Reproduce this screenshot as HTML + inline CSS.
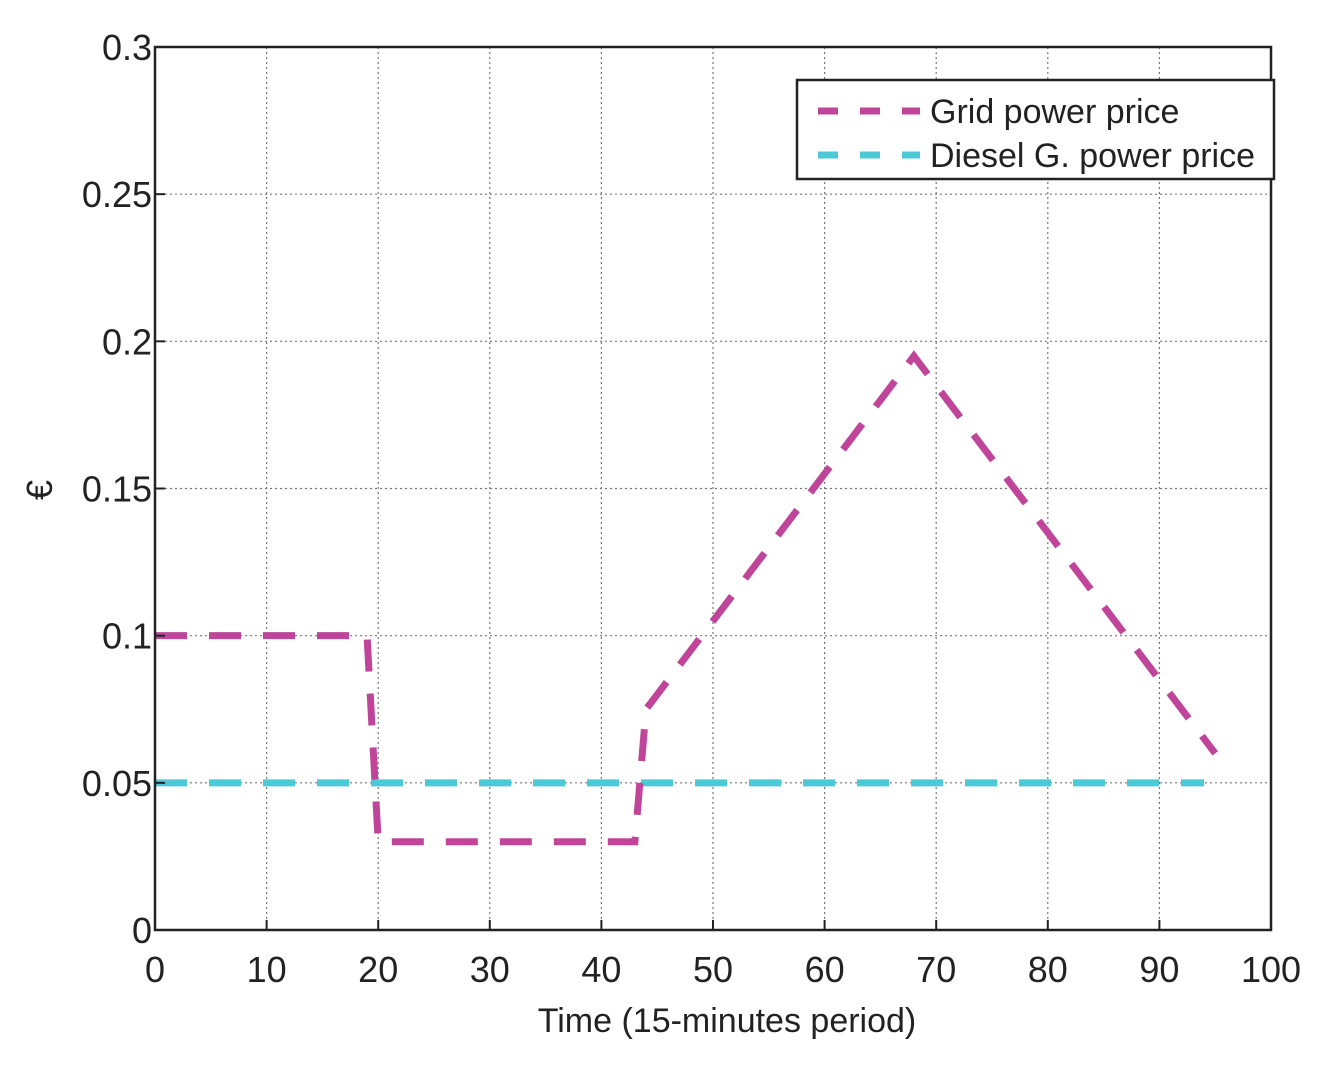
<!DOCTYPE html>
<html><head><meta charset="utf-8"><style>
body{margin:0;background:#fff;}
svg text{font-family:"Liberation Sans",sans-serif;fill:#222;}
</style></head><body>
<svg id="chart" width="1338" height="1065" viewBox="0 0 1338 1065" xmlns="http://www.w3.org/2000/svg">
<g id="grid"></g>
<g id="series"></g>
<rect x="155" y="47" width="1116" height="883" fill="none" stroke="#222" stroke-width="2.5"/>
<g id="ticks"></g>
<text x="727" y="1032" font-size="34" text-anchor="middle">Time (15-minutes period)</text>
<text x="52" y="490" font-size="36" text-anchor="middle" transform="rotate(-90 52 490)">€</text>
<g>
<rect x="797" y="80" width="477" height="99" fill="#fff" stroke="#222" stroke-width="2.5"/>
<line x1="818" y1="111" x2="920" y2="111" stroke="#c0449a" stroke-width="7" stroke-dasharray="20 22"/>
<text x="930" y="123" font-size="34">Grid power price</text>
<line x1="818" y1="155" x2="920" y2="155" stroke="#4cc9d4" stroke-width="7" stroke-dasharray="20 22"/>
<text x="930" y="167" font-size="34">Diesel G. power price</text>
</g>
</svg>
<script>
const xTicks=[0,10,20,30,40,50,60,70,80,90,100];
const yTicks=[0,0.05,0.1,0.15,0.2,0.25,0.3];
const yTickLabels=["0","0.05","0.1","0.15","0.2","0.25","0.3"];
const gridX=[0,19,20,43,44,68,95];
const gridY=[0.1,0.1,0.03,0.03,0.075,0.195,0.06];
const dieselX=[0,94];
const dieselY=[0.05,0.05];
const NS="http://www.w3.org/2000/svg";
const L=155,R=1271,T=47,B=930;
const sx=v=>L+(v-0)/(100-0)*(R-L);
const sy=v=>B-(v-0)/(0.3-0)*(B-T);
function mk(tag,attrs,parent){const e=document.createElementNS(NS,tag);for(const k in attrs)e.setAttribute(k,attrs[k]);parent.appendChild(e);return e;}
const grid=document.getElementById('grid'),ticks=document.getElementById('ticks'),series=document.getElementById('series');
xTicks.forEach(t=>{
 if(t>0&&t<100){const g=mk('line',{x1:sx(t),x2:sx(t),y1:T,y2:B,stroke:'#777','stroke-width':1.2,'stroke-dasharray':'2 3'},grid);
 
 }
 const tk=mk('line',{x1:sx(t),x2:sx(t),y1:B,y2:B-10,stroke:'#222','stroke-width':2},ticks);
 
 
 const lb=mk('text',{x:sx(t),y:B+52,'font-size':36,'text-anchor':'middle'},ticks);lb.textContent=t;
 
 
});
yTicks.forEach((t,i)=>{
 if(t>0&&t<0.3){const g=mk('line',{x1:L,x2:R,y1:sy(t),y2:sy(t),stroke:'#777','stroke-width':1.2,'stroke-dasharray':'2 3'},grid);
 
 }
 const tk=mk('line',{x1:L,x2:L+10,y1:sy(t),y2:sy(t),stroke:'#222','stroke-width':2},ticks);
 
 
 const lb=mk('text',{x:L-3,y:sy(t)+13,'font-size':36,'text-anchor':'end'},ticks);lb.textContent=yTickLabels[i];
 
 
});
function line(xs,ys,color,name){
 const p=mk('polyline',{points:xs.map((x,i)=>sx(x)+','+sy(ys[i])).join(' '),fill:'none',stroke:color,'stroke-width':7,'stroke-dasharray':'32 22'},series);
 
 
}
line(dieselX,dieselY,'#4cc9d4','diesel-price-line');
line(gridX,gridY,'#c0449a','grid-price-line');
</script>
</body></html>
